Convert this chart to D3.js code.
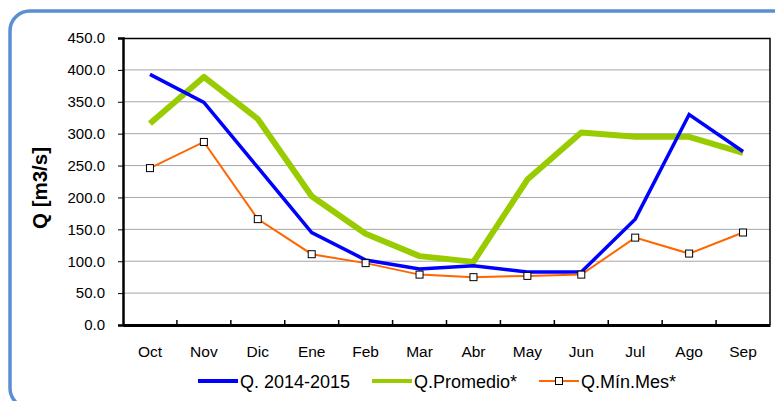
<!DOCTYPE html>
<html>
<head>
<meta charset="utf-8">
<script src="https://cdn.jsdelivr.net/npm/d3@7"></script>
<style>
  body { margin: 0; background: #fff; }
  svg { display: block; font-family: "Liberation Sans", Arial, sans-serif; }
</style>
</head>
<body>
<svg id="chart"></svg>
<script>
const months = ["Oct", "Nov", "Dic", "Ene", "Feb", "Mar", "Abr", "May", "Jun", "Jul", "Ago", "Sep"];
const q20142015 = [393, 349, 247, 145, 102, 88, 93, 83, 83, 166, 330, 272];
const qPromedio = [316, 389, 323, 202, 143, 108, 99, 228, 302, 295, 295, 270];
const qMinMes = [246, 287, 166, 111, 97, 79, 75, 77, 79, 137, 112, 145];
const yTicks = [0, 50, 100, 150, 200, 250, 300, 350, 400, 450];

const svgWidth = 775;
const svgHeight = 401;
const svg = d3.select("#chart").attr("width", svgWidth).attr("height", svgHeight);

// rounded frame (runs off the right and bottom edges)
svg.append("rect")
    .attr("x", 10).attr("y", 11)
    .attr("width", 790).attr("height", 397)
    .attr("rx", 20)
    .attr("fill", "none")
    .attr("stroke", "#5b8fd4")
    .attr("stroke-width", 3.5);

const margin = { top: 38, left: 123 };
const width = 647;
const height = 287;

const g = svg.append("g").attr("transform", `translate(${margin.left},${margin.top})`);

const x = d3.scaleBand().domain(months).range([0, width]);
const y = d3.scaleLinear().domain([0, 450]).range([height, 0]);

// grid
g.selectAll("line.grid")
    .data(yTicks.filter(d => d > 0 && d < 450))
    .enter().append("line")
    .attr("x1", 0).attr("x2", width)
    .attr("y1", d => y(d)).attr("y2", d => y(d))
    .attr("stroke", "#a6a6a6").attr("stroke-width", 1);

// frame top/right
g.append("path")
    .attr("d", `M0,0.5H${width}V${height}`)
    .attr("fill", "none").attr("stroke", "#000").attr("stroke-width", 1.5);

// y axis
const yAxis = g.append("g")
    .call(d3.axisLeft(y).tickValues(yTicks).tickFormat(d3.format(".1f")).tickSize(5).tickPadding(13));
yAxis.select(".domain").attr("stroke-width", 2.5);
yAxis.selectAll("text").attr("font-size", 15).attr("fill", "#000");

// x axis
const xAxis = g.append("g").attr("transform", `translate(0,${height})`)
    .call(d3.axisBottom(x).tickSize(0).tickPadding(21));
xAxis.select(".domain").attr("stroke-width", 3);
xAxis.selectAll("text").attr("font-size", 15.5).attr("fill", "#000");
g.selectAll("line.xtick")
    .data(months.slice(1))
    .enter().append("line")
    .attr("x1", d => x(d)).attr("x2", d => x(d))
    .attr("y1", height).attr("y2", height - 5)
    .attr("stroke", "#000").attr("stroke-width", 1.5);

// y label
svg.append("text")
    .attr("transform", "translate(47,188) rotate(-90)")
    .attr("text-anchor", "middle")
    .attr("font-size", 20.5).attr("font-weight", "bold")
    .text("Q [m3/s]");

const line = d3.line().x((d, i) => x(months[i]) + x.bandwidth() / 2).y(d => y(d));

g.append("path").datum(qPromedio)
    .attr("d", line).attr("fill", "none")
    .attr("stroke", "#99cc00").attr("stroke-width", 6).attr("stroke-linejoin", "round");

g.append("path").datum(q20142015)
    .attr("d", line).attr("fill", "none")
    .attr("stroke", "#0000ff").attr("stroke-width", 3.5);

g.append("path").datum(qMinMes)
    .attr("d", line).attr("fill", "none")
    .attr("stroke", "#ff6600").attr("stroke-width", 2);

g.selectAll("rect.mk").data(qMinMes).enter().append("rect")
    .attr("x", (d, i) => x(months[i]) + x.bandwidth() / 2 - 3.5)
    .attr("y", d => y(d) - 3.5)
    .attr("width", 7).attr("height", 7)
    .attr("fill", "#fff").attr("stroke", "#000").attr("stroke-width", 1);

// legend
const legendItems = [
    { name: "Q. 2014-2015", color: "#0000ff", w: 4, x: 198 },
    { name: "Q.Promedio*", color: "#99cc00", w: 4, x: 372 },
    { name: "Q.Mín.Mes*", color: "#ff6600", w: 2, x: 539, marker: true }
];
const lg = svg.append("g").attr("transform", "translate(0,381)");
legendItems.forEach(it => {
    lg.append("line").attr("x1", it.x).attr("x2", it.x + 40).attr("y1", 0).attr("y2", 0)
        .attr("stroke", it.color).attr("stroke-width", it.w);
    if (it.marker) {
        lg.append("rect").attr("x", it.x + 16.5).attr("y", -3.5).attr("width", 7).attr("height", 7)
            .attr("fill", "#fff").attr("stroke", "#000");
    }
    lg.append("text").attr("x", it.x + 42).attr("y", 7).attr("font-size", 18).text(it.name);
});
</script>
</body>
</html>
